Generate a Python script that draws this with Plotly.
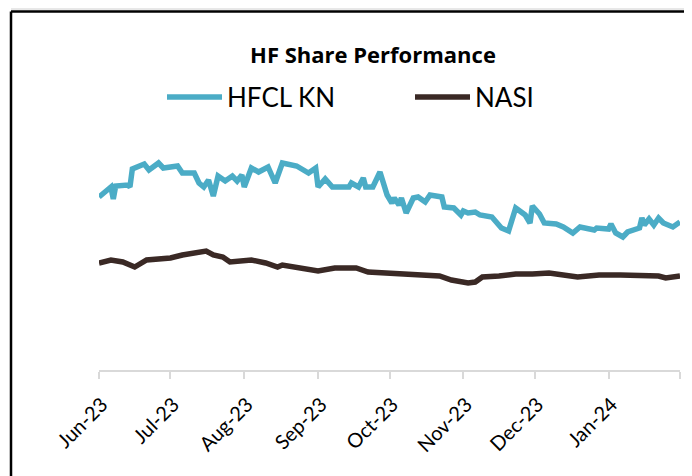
import plotly.graph_objects as go

# ---- data (arbitrary index units, hidden y-axis) ----
hfcl_dates = [
    "2023-06-01", "2023-06-06", "2023-06-07", "2023-06-08", "2023-06-13", "2023-06-14",
    "2023-06-15", "2023-06-20", "2023-06-22", "2023-06-26", "2023-06-28", "2023-07-04",
    "2023-07-06", "2023-07-11", "2023-07-13", "2023-07-15", "2023-07-17", "2023-07-19",
    "2023-07-21", "2023-07-24", "2023-07-27", "2023-07-29", "2023-07-31", "2023-08-01",
    "2023-08-04", "2023-08-07", "2023-08-11", "2023-08-14", "2023-08-17", "2023-08-23",
    "2023-08-28", "2023-08-31", "2023-09-01", "2023-09-04", "2023-09-07", "2023-09-14",
    "2023-09-15", "2023-09-18", "2023-09-20", "2023-09-21", "2023-09-24", "2023-09-27",
    "2023-09-30", "2023-10-02", "2023-10-03", "2023-10-05", "2023-10-06", "2023-10-08",
    "2023-10-11", "2023-10-13", "2023-10-16", "2023-10-18", "2023-10-23", "2023-10-24",
    "2023-10-28", "2023-10-31", "2023-11-01", "2023-11-03", "2023-11-06", "2023-11-08",
    "2023-11-13", "2023-11-17", "2023-11-20", "2023-11-23", "2023-11-27", "2023-11-29",
    "2023-11-30", "2023-12-03", "2023-12-05", "2023-12-10", "2023-12-13", "2023-12-17",
    "2023-12-20", "2023-12-26", "2023-12-27", "2024-01-01", "2024-01-02", "2024-01-04",
    "2024-01-07", "2024-01-09", "2024-01-14", "2024-01-15", "2024-01-16", "2024-01-18",
    "2024-01-20", "2024-01-22", "2024-01-24", "2024-01-28", "2024-01-31",
]
hfcl_values = [
    86.5, 91.5, 85.5, 92, 92.5, 91.5,
    100.5, 103, 100, 103.5, 101, 102,
    98.5, 98.5, 93.5, 91.5, 95, 87,
    97, 94.5, 97, 94.5, 97.5, 91.5,
    101, 99, 101.5, 93.5, 103.5, 102,
    98.5, 101, 91.5, 95.5, 91.5, 91.5,
    93.5, 91.5, 96, 91.5, 91.5, 99,
    87.5, 83.5, 86, 82.5, 86, 78.5,
    86, 86.5, 84, 87.5, 86.5, 81.5,
    81, 77.5, 79.5, 78.5, 79, 77.5,
    76.5, 71, 69.5, 81, 77.5, 73.5,
    82, 78, 73.5, 73, 71.5, 68.5,
    71.5, 70, 71, 70.5, 73, 68.5,
    66.5, 69, 71, 76, 72.5, 75.5,
    72.5, 76, 73.5, 71.5, 74,
]

nasi_dates = [
    "2023-06-01", "2023-06-06", "2023-06-11", "2023-06-16", "2023-06-21", "2023-07-01",
    "2023-07-06", "2023-07-10", "2023-07-16", "2023-07-19", "2023-07-23", "2023-07-26",
    "2023-07-31", "2023-08-04", "2023-08-10", "2023-08-15", "2023-08-17", "2023-08-24",
    "2023-09-01", "2023-09-08", "2023-09-17", "2023-09-22", "2023-09-29", "2023-10-04",
    "2023-10-10", "2023-10-22", "2023-10-27", "2023-11-03", "2023-11-06", "2023-11-09",
    "2023-11-16", "2023-11-23", "2023-11-30", "2023-12-07", "2023-12-19", "2023-12-28",
    "2024-01-06", "2024-01-16", "2024-01-22", "2024-01-25", "2024-01-31",
]
nasi_values = [
    53.5, 55, 54, 51.5, 55, 56,
    57.5, 58.5, 59.5, 57.5, 56.5, 54,
    54.5, 55, 53.5, 51.5, 52.5, 51,
    49.5, 51, 51, 49, 48.5, 48.5,
    47.5, 47, 45, 43.5, 44, 46.5,
    47, 48, 48, 48.5, 46.5, 47.5,
    47.5, 47.5, 47, 46, 47,
]

tick_vals = ["2023-06-01", "2023-07-01", "2023-08-01", "2023-09-01", "2023-10-01",
             "2023-11-01", "2023-12-01", "2024-01-01", "2024-01-31"]
tick_text = ["Jun-23", "Jul-23", "Aug-23", "Sep-23", "Oct-23",
             "Nov-23", "Dec-23", "Jan-24", ""]

x_range = ["2023-06-01", "2024-01-31"]
y_range = [0, 120]

TITLE = "HF Share Performance"
HFCL_NAME = "HFCL KN"
NASI_NAME = "NASI"

# ---- layout geometry (page has an 8px body margin) ----
OFF = 8
W, H = 684, 468
PX0, PX1 = 99, 680      # plot area left/right in window pixels
PY0, PY1 = 130, 370     # plot area top/bottom in window pixels
ML, MR = PX0 - OFF, W - (PX1 - OFF)
MT, MB = PY0 - OFF, H - (PY1 - OFF)

def px_x(p):
    return (p - PX0) / (PX1 - PX0)

def px_y(p):
    return (PY1 - p) / (PY1 - PY0)

fig = go.Figure()
fig.add_trace(go.Scatter(x=hfcl_dates, y=hfcl_values, mode="lines", name=HFCL_NAME,
                         line=dict(color="#4bacc6", width=5.5)))
fig.add_trace(go.Scatter(x=nasi_dates, y=nasi_values, mode="lines", name=NASI_NAME,
                         line=dict(color="#3a2925", width=5.5)))

fig.update_layout(
    width=W, height=H,
    margin=dict(l=ML, r=MR, t=MT, b=MB, pad=0),
    paper_bgcolor="white", plot_bgcolor="white",
    title=dict(text="<b>" + TITLE + "</b>", x=px_x(373), xref="paper", xanchor="center",
               y=1 - (55 - OFF) / H, yref="container", yanchor="middle",
               font=dict(family="Open Sans", size=22, color="#000000")),
    showlegend=True,
    legend=dict(orientation="h", x=px_x(162), xanchor="left", y=px_y(97), yanchor="middle",
                font=dict(family="Lato", size=26, color="#000000"),
                itemwidth=55, entrywidth=178, entrywidthmode="pixels",
                bgcolor="rgba(0,0,0,0)", borderwidth=0),
    xaxis=dict(type="date", range=x_range, tickvals=tick_vals, ticktext=tick_text,
               tickangle=-45, ticks="outside", ticklen=7, tickwidth=1.5, tickcolor="#d9d9d9",
               showline=True, linecolor="#d9d9d9", linewidth=2, showgrid=False, zeroline=False,
               ticklabelstandoff=6, ticklabelshift=3,
               tickfont=dict(family="Lato", size=20, color="#000000")),
    yaxis=dict(range=y_range, visible=False, showgrid=False, zeroline=False),
    shapes=[
        dict(type="line", xref="paper", yref="paper", x0=px_x(11), x1=px_x(720),
             y0=px_y(11.5), y1=px_y(11.5), line=dict(color="#000000", width=2.5)),
        dict(type="line", xref="paper", yref="paper", x0=px_x(11), x1=px_x(11),
             y0=px_y(11.5), y1=px_y(490), line=dict(color="#000000", width=2.5)),
        dict(type="line", xref="paper", yref="paper", x0=px_x(11), x1=px_x(720),
             y0=px_y(9), y1=px_y(9), line=dict(color="#d0d0d0", width=1)),
    ],
)

fig.write_html("out.html")
